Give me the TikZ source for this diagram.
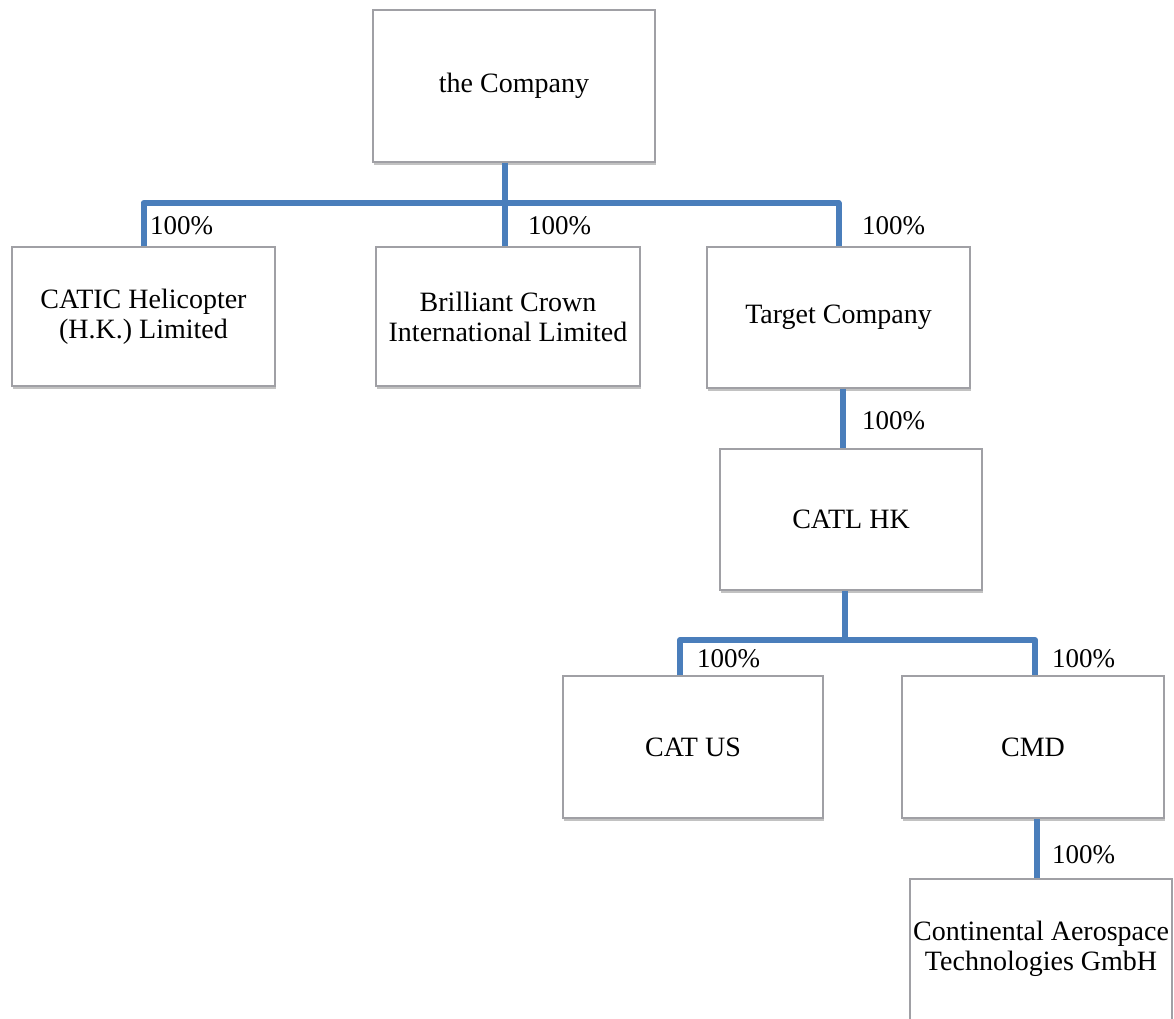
\documentclass[tikz,border=0pt]{standalone}
\usepackage{fontspec}
\setmainfont{Liberation Serif}
\usetikzlibrary{shadows}
\definecolor{connblue}{RGB}{74,126,187}
\definecolor{boxgray}{RGB}{160,160,165}
\tikzset{
  orgbox/.style={draw=boxgray, line width=1.6pt, fill=white, align=center,
    inner sep=2pt, font=\fontsize{28}{30}\selectfont,
    drop shadow={shadow xshift=1pt, shadow yshift=-3pt, opacity=0.4, fill=black!60}},
  conn/.style={draw=connblue, line width=6pt, line join=round},
  pct/.style={anchor=west, inner sep=0pt, font=\fontsize{27}{30}\selectfont}
}
\begin{document}
\begin{tikzpicture}[x=1pt,y=-1pt]
\useasboundingbox (0,0) rectangle (1174,1018);
\clip (0,0) rectangle (1174,1018);
\coordinate (j1) at (505,203);
\coordinate (j2) at (845,640);
% boxes
\node[orgbox, minimum width=282pt, minimum height=152pt] (comp) at (514,86) {\raisebox{6pt}{the Company}};
\node[orgbox, minimum width=263pt, minimum height=139pt] (catic) at (143.5,316.5) {CATIC Helicopter\\(H.K.) Limited};
\node[orgbox, minimum width=264pt, minimum height=139pt] (bril) at (508,316.5) {Brilliant Crown\\International Limited};
\node[orgbox, minimum width=263pt, minimum height=141pt] (target) at (838.5,317.5) {\raisebox{4pt}{Target Company}};
\node[orgbox, minimum width=262pt, minimum height=141pt] (catl) at (851,519.5) {CATL HK};
\node[orgbox, minimum width=260pt, minimum height=142pt] (catus) at (693,747) {CAT US};
\node[orgbox, minimum width=262pt, minimum height=142pt] (cmd) at (1033,747) {CMD};
\node[orgbox, inner sep=0pt, minimum width=262pt, minimum height=170pt] (cont) at (1041,964) {Continental Aerospace\\Technologies GmbH\\[6pt]};
% connectors
\draw[conn] ([xshift=-9pt]comp.south) -- (j1);
\draw[conn] (catic.north) |- (j1) -| (target.north);
\draw[conn] (j1) -- (j1 |- bril.north);
\draw[conn] ([xshift=4.5pt]target.south) -- ([xshift=-8pt]catl.north);
\draw[conn] ([xshift=-6pt]catl.south) -- (j2);
\draw[conn] ([xshift=-13pt]catus.north) |- (j2) -| ([xshift=2pt]cmd.north);
\draw[conn] ([xshift=4pt]cmd.south) -- ([xshift=-4pt]cont.north);
% labels
\node[pct] (p1) at (150,226) {100\%};
\node[pct] (p2) at (528,226) {100\%};
\node[pct] (p3) at (862,226) {100\%};
\node[pct] (p4) at (862,421) {100\%};
\node[pct] (p5) at (697,659) {100\%};
\node[pct] (p6) at (1052,659) {100\%};
\node[pct] (p7) at (1052,855) {100\%};
\end{tikzpicture}
\end{document}
